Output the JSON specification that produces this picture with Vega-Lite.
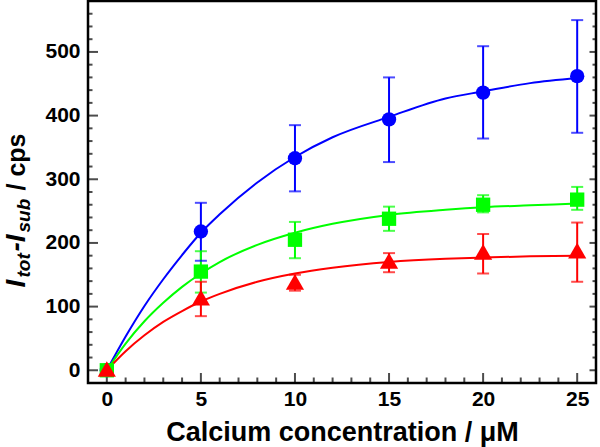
{
  "$schema": "https://vega.github.io/schema/vega-lite/v6.json",
  "width": 508,
  "height": 382,
  "autosize": "none",
  "padding": {"left": 88, "top": 1, "right": 4, "bottom": 64},
  "background": "white",
  "config": {
    "view": {"stroke": "black", "strokeWidth": 2.5},
    "axis": {
      "labelFont": "Liberation Sans",
      "titleFont": "Liberation Sans",
      "labelColor": "black",
      "titleColor": "black",
      "ticks": false,
      "domain": false,
      "grid": false
    }
  },
  "datasets": {
    "points": [
      {"series": "Series 1", "conc": 0, "signal": 0},
      {"series": "Series 1", "conc": 5, "signal": 218},
      {"series": "Series 1", "conc": 10, "signal": 333},
      {"series": "Series 1", "conc": 15, "signal": 394},
      {"series": "Series 1", "conc": 20, "signal": 436},
      {"series": "Series 1", "conc": 25, "signal": 462},
      {"series": "Series 2", "conc": 0, "signal": 0},
      {"series": "Series 2", "conc": 5, "signal": 155},
      {"series": "Series 2", "conc": 10, "signal": 205},
      {"series": "Series 2", "conc": 15, "signal": 238},
      {"series": "Series 2", "conc": 20, "signal": 260},
      {"series": "Series 2", "conc": 25, "signal": 268},
      {"series": "Series 3", "conc": 0, "signal": 2},
      {"series": "Series 3", "conc": 5, "signal": 114},
      {"series": "Series 3", "conc": 10, "signal": 139},
      {"series": "Series 3", "conc": 15, "signal": 172},
      {"series": "Series 3", "conc": 20, "signal": 186},
      {"series": "Series 3", "conc": 25, "signal": 188}
    ],
    "errors": [
      {"series": "Series 1", "conc": 5, "lo": 172, "hi": 263},
      {"series": "Series 1", "conc": 10, "lo": 281, "hi": 385},
      {"series": "Series 1", "conc": 15, "lo": 327, "hi": 460},
      {"series": "Series 1", "conc": 20, "lo": 364, "hi": 509},
      {"series": "Series 1", "conc": 25, "lo": 373, "hi": 550},
      {"series": "Series 2", "conc": 5, "lo": 122, "hi": 187},
      {"series": "Series 2", "conc": 10, "lo": 176, "hi": 233},
      {"series": "Series 2", "conc": 15, "lo": 219, "hi": 257},
      {"series": "Series 2", "conc": 20, "lo": 248, "hi": 275},
      {"series": "Series 2", "conc": 25, "lo": 252, "hi": 288},
      {"series": "Series 3", "conc": 5, "lo": 85, "hi": 139},
      {"series": "Series 3", "conc": 10, "lo": 125, "hi": 150},
      {"series": "Series 3", "conc": 15, "lo": 154, "hi": 184},
      {"series": "Series 3", "conc": 20, "lo": 152, "hi": 214},
      {"series": "Series 3", "conc": 25, "lo": 139, "hi": 232}
    ],
    "fits": [
      {"series": "Series 1", "conc": 0, "signal": 0},
      {"series": "Series 1", "conc": 1, "signal": 53},
      {"series": "Series 1", "conc": 2, "signal": 101},
      {"series": "Series 1", "conc": 3, "signal": 143},
      {"series": "Series 1", "conc": 4, "signal": 181},
      {"series": "Series 1", "conc": 5, "signal": 216},
      {"series": "Series 1", "conc": 6, "signal": 245},
      {"series": "Series 1", "conc": 8, "signal": 295},
      {"series": "Series 1", "conc": 10, "signal": 335},
      {"series": "Series 1", "conc": 12, "signal": 366},
      {"series": "Series 1", "conc": 15, "signal": 398},
      {"series": "Series 1", "conc": 18, "signal": 427},
      {"series": "Series 1", "conc": 20, "signal": 438},
      {"series": "Series 1", "conc": 22.5, "signal": 451},
      {"series": "Series 1", "conc": 25, "signal": 459},
      {"series": "Series 2", "conc": 0, "signal": 0},
      {"series": "Series 2", "conc": 1, "signal": 42},
      {"series": "Series 2", "conc": 2, "signal": 77},
      {"series": "Series 2", "conc": 3, "signal": 106},
      {"series": "Series 2", "conc": 4, "signal": 131},
      {"series": "Series 2", "conc": 5, "signal": 152},
      {"series": "Series 2", "conc": 6, "signal": 170},
      {"series": "Series 2", "conc": 8, "signal": 197},
      {"series": "Series 2", "conc": 10, "signal": 216},
      {"series": "Series 2", "conc": 12, "signal": 230},
      {"series": "Series 2", "conc": 15, "signal": 244},
      {"series": "Series 2", "conc": 18, "signal": 252},
      {"series": "Series 2", "conc": 20, "signal": 256},
      {"series": "Series 2", "conc": 22.5, "signal": 259},
      {"series": "Series 2", "conc": 25, "signal": 262},
      {"series": "Series 3", "conc": 0, "signal": 0},
      {"series": "Series 3", "conc": 1, "signal": 30},
      {"series": "Series 3", "conc": 2, "signal": 55},
      {"series": "Series 3", "conc": 3, "signal": 76},
      {"series": "Series 3", "conc": 4, "signal": 93},
      {"series": "Series 3", "conc": 5, "signal": 108},
      {"series": "Series 3", "conc": 6, "signal": 120},
      {"series": "Series 3", "conc": 8, "signal": 139},
      {"series": "Series 3", "conc": 10, "signal": 152},
      {"series": "Series 3", "conc": 12, "signal": 161},
      {"series": "Series 3", "conc": 15, "signal": 170},
      {"series": "Series 3", "conc": 18, "signal": 175},
      {"series": "Series 3", "conc": 20, "signal": 177},
      {"series": "Series 3", "conc": 22.5, "signal": 179},
      {"series": "Series 3", "conc": 25, "signal": 180}
    ],
    "xmajor": [{"v": 0}, {"v": 5}, {"v": 10}, {"v": 15}, {"v": 20}, {"v": 25}],
    "xminor": [{"v": 1}, {"v": 2}, {"v": 3}, {"v": 4}, {"v": 6}, {"v": 7}, {"v": 8}, {"v": 9}, {"v": 11}, {"v": 12}, {"v": 13}, {"v": 14}, {"v": 16}, {"v": 17}, {"v": 18}, {"v": 19}, {"v": 21}, {"v": 22}, {"v": 23}, {"v": 24}],
    "ymajor": [{"v": 0}, {"v": 100}, {"v": 200}, {"v": 300}, {"v": 400}, {"v": 500}],
    "yminor": [{"v": 20}, {"v": 40}, {"v": 60}, {"v": 80}, {"v": 120}, {"v": 140}, {"v": 160}, {"v": 180}, {"v": 220}, {"v": 240}, {"v": 260}, {"v": 280}, {"v": 320}, {"v": 340}, {"v": 360}, {"v": 380}, {"v": 420}, {"v": 440}, {"v": 460}, {"v": 480}, {"v": 520}, {"v": 540}, {"v": 560}]
  },
  "layer": [
    {
      "data": {"name": "fits"},
      "mark": {"type": "line", "interpolate": "monotone", "strokeWidth": 2},
      "encoding": {
        "x": {
          "field": "conc", "type": "quantitative",
          "scale": {"domain": [-1, 26], "nice": false, "zero": false},
          "axis": {
            "orient": "bottom",
            "values": [0, 5, 10, 15, 20, 25],
            "labelFontSize": 21, "labelFontWeight": "bold", "labelPadding": 5,
            "title": "Calcium concentration / μM",
            "titleFontSize": 27, "titleFontWeight": "bold",
            "titleX": 254, "titleY": 57, "titleAlign": "center", "titleBaseline": "alphabetic"
          }
        },
        "y": {
          "field": "signal", "type": "quantitative",
          "scale": {"domain": [-20, 580], "nice": false, "zero": false},
          "axis": {
            "orient": "left",
            "values": [0, 100, 200, 300, 400, 500],
            "labelFontSize": 21, "labelFontWeight": "bold", "labelPadding": 8,
            "title": "I",
            "titleFontSize": 28, "titleFontWeight": "bold", "titleFontStyle": "italic",
            "titleAngle": 270, "titleAlign": "left", "titleBaseline": "alphabetic",
            "titleX": -64, "titleY": 286
          }
        },
        "color": {
          "field": "series", "type": "nominal", "legend": null,
          "scale": {"domain": ["Series 1", "Series 2", "Series 3"], "range": ["#0000FF", "#00FF00", "#FF0000"]}
        },
        "detail": {"field": "series"}
      }
    },
    {
      "data": {"name": "errors"},
      "mark": {"type": "rule", "strokeWidth": 2},
      "encoding": {
        "x": {
          "field": "conc", "type": "quantitative",
          "axis": {
            "orient": "bottom",
            "values": [0],
            "labels": false,
            "title": "/ cps",
            "titleFontSize": 25, "titleFontWeight": "bold",
            "titleAngle": 270, "titleAlign": "left", "titleBaseline": "alphabetic",
            "titleX": -64, "titleY": -193
          }
        },
        "y": {
          "field": "lo", "type": "quantitative",
          "axis": {
            "orient": "left",
            "values": [0],
            "labels": false,
            "title": "tot",
            "titleFontSize": 19, "titleFontWeight": "bold", "titleFontStyle": "italic",
            "titleAngle": 270, "titleAlign": "left", "titleBaseline": "alphabetic",
            "titleX": -59, "titleY": 276
          }
        },
        "y2": {"field": "hi"},
        "color": {"field": "series", "type": "nominal", "legend": null}
      }
    },
    {
      "data": {"name": "errors"},
      "mark": {"type": "tick", "orient": "horizontal", "size": 12, "thickness": 2},
      "encoding": {
        "x": {"field": "conc", "type": "quantitative", "axis": null},
        "y": {
          "field": "lo", "type": "quantitative",
          "axis": {
            "orient": "left",
            "values": [0],
            "labels": false,
            "title": "-I",
            "titleFontSize": 28, "titleFontWeight": "bold", "titleFontStyle": "italic",
            "titleAngle": 270, "titleAlign": "left", "titleBaseline": "alphabetic",
            "titleX": -64, "titleY": 250
          }
        },
        "color": {"field": "series", "type": "nominal", "legend": null}
      }
    },
    {
      "data": {"name": "errors"},
      "mark": {"type": "tick", "orient": "horizontal", "size": 12, "thickness": 2},
      "encoding": {
        "x": {"field": "conc", "type": "quantitative", "axis": null},
        "y": {
          "field": "hi", "type": "quantitative",
          "axis": {
            "orient": "left",
            "values": [0],
            "labels": false,
            "title": "sub",
            "titleFontSize": 19, "titleFontWeight": "bold", "titleFontStyle": "italic",
            "titleAngle": 270, "titleAlign": "left", "titleBaseline": "alphabetic",
            "titleX": -59, "titleY": 231
          }
        },
        "color": {"field": "series", "type": "nominal", "legend": null}
      }
    },
    {
      "data": {"name": "xmajor"},
      "mark": {"type": "tick", "orient": "vertical", "size": 20, "thickness": 2, "color": "black", "clip": true},
      "encoding": {
        "x": {"field": "v", "type": "quantitative", "axis": null},
        "y": {"datum": -20, "type": "quantitative", "axis": null}
      }
    },
    {
      "data": {"name": "xminor"},
      "mark": {"type": "tick", "orient": "vertical", "size": 11, "thickness": 2, "color": "black", "clip": true},
      "encoding": {
        "x": {"field": "v", "type": "quantitative", "axis": null},
        "y": {"datum": -20, "type": "quantitative", "axis": null}
      }
    },
    {
      "data": {"name": "ymajor"},
      "mark": {"type": "tick", "orient": "horizontal", "size": 20, "thickness": 2, "color": "black", "clip": true},
      "encoding": {
        "y": {"field": "v", "type": "quantitative", "axis": null},
        "x": {"datum": -1, "type": "quantitative", "axis": null}
      }
    },
    {
      "data": {"name": "yminor"},
      "mark": {"type": "tick", "orient": "horizontal", "size": 9, "thickness": 2, "color": "black", "clip": true},
      "encoding": {
        "y": {"field": "v", "type": "quantitative", "axis": null},
        "x": {"datum": -1, "type": "quantitative", "axis": null}
      }
    },
    {
      "data": {"name": "ymajor"},
      "mark": {"type": "tick", "orient": "horizontal", "size": 13, "thickness": 2, "color": "black", "clip": true},
      "encoding": {
        "y": {"field": "v", "type": "quantitative", "axis": null},
        "x": {"datum": 26, "type": "quantitative", "axis": null}
      }
    },
    {
      "data": {"name": "yminor"},
      "mark": {"type": "tick", "orient": "horizontal", "size": 7, "thickness": 2, "color": "black", "clip": true},
      "encoding": {
        "y": {"field": "v", "type": "quantitative", "axis": null},
        "x": {"datum": 26, "type": "quantitative", "axis": null}
      }
    },
    {
      "data": {"name": "points"},
      "transform": [{"filter": "datum.series !== 'Series 3'"}],
      "mark": {"type": "point", "filled": true, "opacity": 1, "size": 205},
      "encoding": {
        "x": {"field": "conc", "type": "quantitative", "axis": null},
        "y": {"field": "signal", "type": "quantitative", "axis": null},
        "color": {"field": "series", "type": "nominal", "legend": null},
        "shape": {
          "field": "series", "type": "nominal", "legend": null,
          "scale": {"domain": ["Series 1", "Series 2", "Series 3"], "range": ["circle", "square", "triangle-up"]}
        }
      }
    },
    {
      "data": {"name": "points"},
      "transform": [{"filter": "datum.series === 'Series 3'"}],
      "mark": {"type": "point", "filled": true, "opacity": 1, "size": 330},
      "encoding": {
        "x": {"field": "conc", "type": "quantitative", "axis": null},
        "y": {"field": "signal", "type": "quantitative", "axis": null},
        "color": {"field": "series", "type": "nominal", "legend": null},
        "shape": {"field": "series", "type": "nominal", "legend": null}
      }
    }
  ],
  "resolve": {"axis": {"x": "independent", "y": "independent"}}
}
